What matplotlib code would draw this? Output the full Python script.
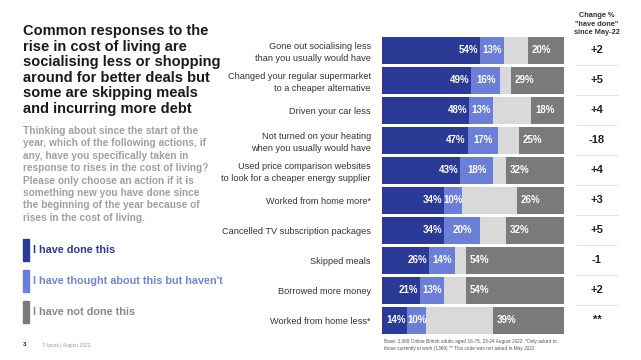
import numpy as np
import matplotlib.pyplot as plt
from matplotlib.patches import Rectangle

plt.rcParams['font.family'] = ['Liberation Sans', 'DejaVu Sans']

categories = [
    'Gone out socialising less\nthan you usually would have',
    'Changed your regular supermarket\nto a cheaper alternative',
    'Driven your car less',
    'Not turned on your heating\nwhen you usually would have',
    'Used price comparison websites\nto look for a cheaper energy supplier',
    'Worked from home more*',
    'Cancelled TV subscription packages',
    'Skipped meals',
    'Borrowed more money',
    'Worked from home less*',
]
done = [54, 49, 48, 47, 43, 34, 34, 26, 21, 14]
thought = [13, 16, 13, 17, 18, 10, 20, 14, 13, 10]
not_done = [20, 29, 18, 25, 32, 26, 32, 54, 54, 39]
change = ['+2', '+5', '+4', '-18', '+4', '+3', '+5', '-1', '+2', '**']

c_done = '#2B3A97'
c_thought = '#6B7FD9'
c_other = '#D9D9D9'
c_not = '#7A7A7A'

done = np.array(done)
thought = np.array(thought)
not_done = np.array(not_done)
other = 100 - done - thought - not_done

fig = plt.figure(figsize=(6.41, 3.6), dpi=100)
W, H = 641, 360

ax = fig.add_axes([382 / W, 1 - 335 / H, 182 / W, 300 / H])
y = np.arange(len(categories))
h = 0.9
ax.barh(y, done, height=h, color=c_done)
ax.barh(y, thought, left=done, height=h, color=c_thought)
ax.barh(y, other, left=done + thought, height=h, color=c_other)
ax.barh(y, not_done, left=done + thought + other, height=h, color=c_not)
ax.set_xlim(0, 100)
ax.set_ylim(len(categories) - 0.5, -0.5)
ax.set_xticks([])
ax.set_yticks(y)
ax.set_yticklabels(categories, fontsize=6.6, color='#333333', linespacing=1.45)
ax.tick_params(axis='y', length=0, pad=8)
for s in ax.spines.values():
    s.set_visible(False)

lab = dict(color='white', fontsize=7, fontweight='bold', va='center')
for i in range(len(categories)):
    ax.text(done[i] - 1, i, f'{done[i]}%', ha='right', **lab)
    ax.text(done[i] + thought[i] / 2, i, f'{thought[i]}%', ha='center', **lab)
    ax.text(100 - not_done[i] + 2, i, f'{not_done[i]}%', ha='left', **lab)

# change column
for i in range(len(categories)):
    yy = (35 + 15 + 30 * i) / H
    fig.text(597 / W, 1 - yy, change[i], ha='center', va='center',
             fontsize=8, fontweight='bold', color='#222222')
    if i < len(categories) - 1:
        yl = 1 - (35 + 30 * (i + 1)) / H
        fig.add_artist(plt.Line2D([577 / W, 617 / W], [yl, yl], color='#E4E4E4', lw=0.8))
fig.text(597 / W, 1 - 24 / H, 'Change %\n"have done"\nsince May-22', ha='center', va='center',
         fontsize=5.3, fontweight='bold', color='#333333', linespacing=1.25)

# left text
title = ('Common responses to the\nrise in cost of living are\nsocialising less or shopping\n'
         'around for better deals but\nsome are skipping meals\nand incurring more debt')
fig.text(23 / W, 1 - 24 / H, title, ha='left', va='top', fontsize=10.5,
         fontweight='bold', color='#1A1A1A', linespacing=1.14)
sub = ('Thinking about since the start of the\nyear, which of the following actions, if\n'
       'any, have you specifically taken in\nresponse to rises in the cost of living?\n'
       'Please only choose an action if it is\nsomething new you have done since\n'
       'the beginning of the year because of\nrises in the cost of living.')
fig.text(23 / W, 1 - 126 / H, sub, ha='left', va='top', fontsize=7.3,
         fontweight='bold', color='#A0A0A0', linespacing=1.3)

legend = [('I have done this', c_done, c_done),
          ('I have thought about this but haven\'t', c_thought, '#7385D3'),
          ('I have not done this', c_not, '#8A8A8A')]
for k, (txt, col, tcol) in enumerate(legend):
    yc = 250 + 31 * k
    fig.add_artist(Rectangle((23 / W, 1 - (yc + 11) / H), 6 / W, 22 / H,
                             transform=fig.transFigure, color=col))
    fig.text(33 / W, 1 - yc / H, txt, ha='left', va='center', fontsize=7.8,
             fontweight='bold', color=tcol)

fig.text(23 / W, 1 - 345 / H, '3', ha='left', va='center', fontsize=4.5,
         fontweight='bold', color='#222222')
fig.text(42 / W, 1 - 345 / H, '\u00a9 Ipsos | August 2022', ha='left', va='center',
         fontsize=3.5, color='#999999')
fig.text(384 / W, 1 - 345 / H,
         'Base: 2,069 Online British adults aged 16-75, 23-24 August 2022. *Only asked to\n'
         'those currently in work (1369) ** This code was not asked in May 2022',
         ha='left', va='center', fontsize=3.4, color='#555555', linespacing=1.3)

fig.savefig('out.png', dpi=100)
